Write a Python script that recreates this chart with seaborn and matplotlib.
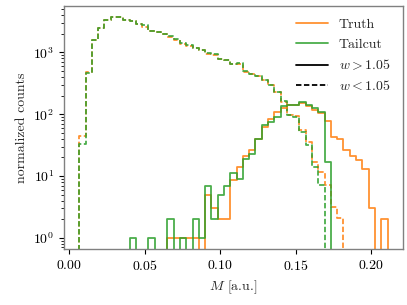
import numpy as np
import pandas as pd
import seaborn as sns
import matplotlib.pyplot as plt
from matplotlib.lines import Line2D

# Binning shared by all four histograms
m_min, m_max, n_bins = 0.0068, 0.2108, 49

# w < 1.05 (dashed)
truth_low = [44, 490, 1560, 2500, 3400, 3700, 3760, 3380, 3230, 2900,
             2560, 2250, 2100, 1950, 1790, 1600, 1390, 1290, 1170, 1090,
             950, 920, 770, 760, 640, 650, 490, 445, 415, 355,
             300, 225, 160, 98, 93, 55, 36, 17, 11.5, 7.2,
             3.1, 2.1, 0, 0, 0, 0, 0, 0, 0]
tailcut_low = [33, 470, 1590, 2520, 3350, 3720, 3740, 3360, 3250, 2920,
               2750, 2200, 2130, 1960, 1810, 1620, 1400, 1300, 1180, 1100,
               965, 935, 785, 750, 645, 670, 505, 445, 420, 355,
               295, 230, 165, 97, 90, 52, 31.5, 14.2, 7.2, 0,
               0, 0, 0, 0, 0, 0, 0, 0, 0]

# w > 1.05 (solid)
truth_high = [0, 0, 0, 0, 0, 0, 0, 0, 0, 0,
              0, 0, 0, 0, 1, 1, 1, 1, 1, 0,
              5, 3, 2, 2, 8.5, 14, 21, 26, 40, 61,
              85, 108, 125, 140, 140, 150, 138, 118, 103, 77,
              42, 40, 26, 21, 18, 13, 3, 0, 2]
tailcut_high = [0, 0, 0, 0, 0, 0, 0, 0, 1, 0,
                0, 1, 0, 0, 2, 0, 1, 0, 2, 1,
                7, 2, 5, 7, 11, 9, 19, 23, 39, 68,
                74, 90, 138, 142, 142, 160, 142, 124, 108, 17,
                0, 0, 0, 0, 0, 0, 0, 0, 0]

sns.set_style("ticks")
plt.rcParams["font.family"] = "serif"
plt.rcParams["font.serif"] = ["cmr10"]
plt.rcParams["mathtext.fontset"] = "cm"
plt.rcParams["axes.formatter.use_mathtext"] = True
plt.rcParams["xtick.color"] = "k"
plt.rcParams["ytick.color"] = "k"

edges = np.linspace(m_min, m_max, n_bins + 1)
width = edges[1] - edges[0]
centers = 0.5 * (edges[:-1] + edges[1:])
# an empty bin on each side so the outlines drop to the axis at the ends
edges_ext = [m_min - width] + list(edges) + [m_max + width]

dashed = (0, (3.0, 1.4))
lw = 1.3

fig, ax = plt.subplots(figsize=(4.07, 3.05), dpi=100)

series = [
    (truth_low, "tab:orange", dashed),
    (tailcut_low, "tab:green", dashed),
    (truth_high, "tab:orange", "-"),
    (tailcut_high, "tab:green", "-"),
]
for counts, color, ls in series:
    df = pd.DataFrame({"M": centers, "w": counts})
    sns.histplot(data=df, x="M", weights="w", bins=edges_ext, element="step",
                 fill=False, color=color, linestyle=ls, linewidth=lw,
                 alpha=0.85, ax=ax)

ax.set_yscale("log")
pad = 0.05 * (m_max - m_min)
ax.set_xlim(m_min - pad, m_max + pad)
ax.set_xlabel("$M$ [a.u.]")
ax.set_ylabel("normalized counts")
for sp in ax.spines.values():
    sp.set_color("0.5")
    sp.set_linewidth(1.0)

handles = [
    Line2D([], [], color="tab:orange", lw=lw, alpha=0.85, label="Truth"),
    Line2D([], [], color="tab:green", lw=lw, alpha=0.85, label="Tailcut"),
    Line2D([], [], color="k", lw=lw, label="$w > 1.05$"),
    Line2D([], [], color="k", lw=lw, ls=dashed, label="$w < 1.05$"),
]
ax.legend(handles=handles, loc="upper right", frameon=False, handlelength=2.3)

fig.subplots_adjust(left=0.157, right=0.990, bottom=0.184, top=0.981)
fig.savefig("out.png", dpi=100)
